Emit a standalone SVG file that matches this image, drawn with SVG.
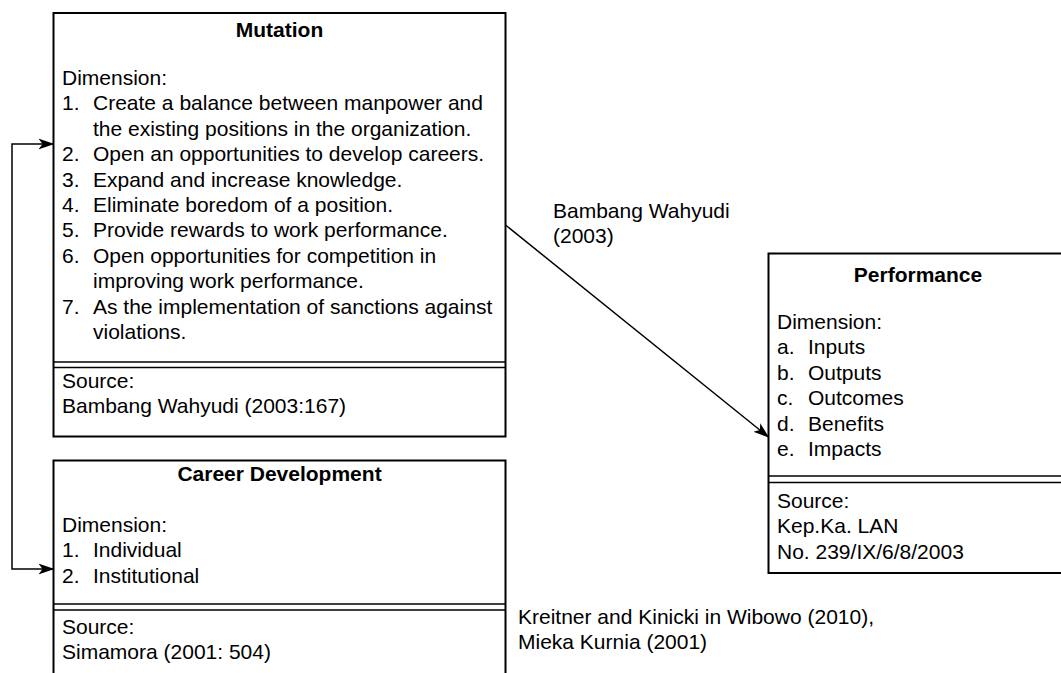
<svg xmlns="http://www.w3.org/2000/svg" width="1061" height="673" viewBox="0 0 1061 673">
<defs>
<style>
.box{fill:#fff;stroke:#000;stroke-width:2}
.sep{stroke:#000;stroke-width:1.5;fill:none}
.t{font-family:"Liberation Sans",Arial,sans-serif;font-size:21px;fill:#000}
.b{font-weight:bold}
.edge{fill:none;stroke:#000;stroke-width:1.5}
</style>
<marker id="arr" viewBox="0 0 16 12" refX="15" refY="6" markerWidth="16" markerHeight="12" markerUnits="userSpaceOnUse" orient="auto-start-reverse">
<path d="M0,0.5 L16,6 L0,11.5 L4,6 Z" fill="#000"/>
</marker>
</defs>
<rect width="1061" height="673" fill="#fff"/>
<g id="mutation">
<rect class="box" x="53.5" y="13" width="452" height="423.5"/>
<line class="sep" x1="53.5" y1="362" x2="505.5" y2="362"/>
<line class="sep" x1="53.5" y1="367.5" x2="505.5" y2="367.5"/>
<text class="t b" x="279.5" y="37" text-anchor="middle">Mutation</text>
<text class="t" x="62" y="85">Dimension:</text>
<text class="t" x="62" y="110.4">1.</text><text class="t" x="93" y="110.4">Create a balance between manpower and</text>
<text class="t" x="93" y="135.8">the existing positions in the organization.</text>
<text class="t" x="62" y="161.2">2.</text><text class="t" x="93" y="161.2">Open an opportunities to develop careers.</text>
<text class="t" x="62" y="186.6">3.</text><text class="t" x="93" y="186.6">Expand and increase knowledge.</text>
<text class="t" x="62" y="212">4.</text><text class="t" x="93" y="212">Eliminate boredom of a position.</text>
<text class="t" x="62" y="237.4">5.</text><text class="t" x="93" y="237.4">Provide rewards to work performance.</text>
<text class="t" x="62" y="262.8">6.</text><text class="t" x="93" y="262.8">Open opportunities for competition in</text>
<text class="t" x="93" y="288.2">improving work performance.</text>
<text class="t" x="62" y="313.6">7.</text><text class="t" x="93" y="313.6">As the implementation of sanctions against</text>
<text class="t" x="93" y="339">violations.</text>
<text class="t" x="62" y="388">Source:</text>
<text class="t" x="62" y="413.4">Bambang Wahyudi (2003:167)</text>
</g>
<g id="career">
<rect class="box" x="53.5" y="460.5" width="452" height="230"/>
<line class="sep" x1="53.5" y1="604" x2="505.5" y2="604"/>
<line class="sep" x1="53.5" y1="610" x2="505.5" y2="610"/>
<text class="t b" x="279.5" y="481" text-anchor="middle">Career Development</text>
<text class="t" x="62" y="532">Dimension:</text>
<text class="t" x="62" y="557.4">1.</text><text class="t" x="93" y="557.4">Individual</text>
<text class="t" x="62" y="582.8">2.</text><text class="t" x="93" y="582.8">Institutional</text>
<text class="t" x="62" y="634">Source:</text>
<text class="t" x="62" y="659.4">Simamora (2001: 504)</text>
</g>
<g id="performance">
<rect class="box" x="768.5" y="253.5" width="300" height="319.5"/>
<line class="sep" x1="768.5" y1="476" x2="1068.5" y2="476"/>
<line class="sep" x1="768.5" y1="482.5" x2="1068.5" y2="482.5"/>
<text class="t b" x="918" y="281.5" text-anchor="middle">Performance</text>
<text class="t" x="777" y="329">Dimension:</text>
<text class="t" x="777" y="354.4">a.</text><text class="t" x="808" y="354.4">Inputs</text>
<text class="t" x="777" y="379.8">b.</text><text class="t" x="808" y="379.8">Outputs</text>
<text class="t" x="777" y="405.2">c.</text><text class="t" x="808" y="405.2">Outcomes</text>
<text class="t" x="777" y="430.6">d.</text><text class="t" x="808" y="430.6">Benefits</text>
<text class="t" x="777" y="456">e.</text><text class="t" x="808" y="456">Impacts</text>
<text class="t" x="777" y="508">Source:</text>
<text class="t" x="777" y="533.4">Kep.Ka. LAN</text>
<text class="t" x="777" y="558.8">No. 239/IX/6/8/2003</text>
</g>
<g id="connectors">
<polyline class="edge" points="53.5,569 12,569 12,144 53.5,144" marker-start="url(#arr)" marker-end="url(#arr)"/>
<line class="edge" x1="505.5" y1="225" x2="768.5" y2="437" marker-end="url(#arr)"/>
</g>
<g id="labels">
<text class="t" x="553" y="218">Bambang Wahyudi</text>
<text class="t" x="553" y="243.4">(2003)</text>
<text class="t" x="518" y="624">Kreitner and Kinicki in Wibowo (2010),</text>
<text class="t" x="518" y="649.4">Mieka Kurnia (2001)</text>
</g>
</svg>
